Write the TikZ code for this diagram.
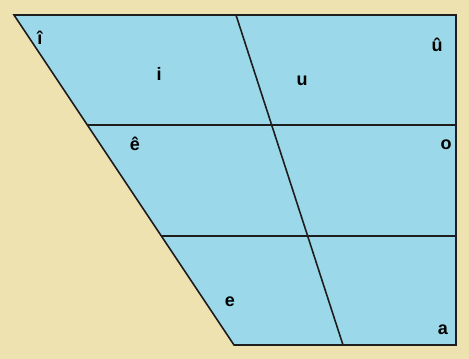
\documentclass[tikz,border=0pt]{standalone}
\usepackage{fontspec}
\setmainfont{Liberation Sans}
\definecolor{beige}{RGB}{238,226,176}
\definecolor{chartblue}{RGB}{155,216,233}
\definecolor{edge}{RGB}{30,30,30}
\begin{document}
\begin{tikzpicture}[x=0.75pt,y=-0.75pt,
  vowel/.style={font=\bfseries\fontsize{13.5}{15}\selectfont, text=black, anchor=base, inner sep=0pt},
  gridline/.style={draw=edge, line width=1.2pt}]
\fill[beige] (0,0) rectangle (469,359);
\useasboundingbox (0,0) rectangle (469,359);
\coordinate (TL) at (14,15);
\coordinate (TR) at (456,15);
\coordinate (BR) at (456,345);
\coordinate (BL) at (234,345);
\coordinate (TM) at (236,15);
\coordinate (BM) at (343,345);
\coordinate (ML) at (87.3,125);
\coordinate (MR) at (456,125);
\coordinate (LL) at (161.5,236);
\coordinate (LR) at (456,236);
\fill[chartblue] (TL) -- (TR) -- (BR) -- (BL) -- cycle;
\draw[gridline, line join=miter] (TL) -- (TR) -- (BR) -- (BL) -- cycle;
\draw[gridline] (TM) -- (BM);
\draw[gridline] (ML) -- (MR);
\draw[gridline] (LL) -- (LR);
\node[vowel] (icirc) at (40,45) {î};
\node[vowel] (i) at (159,81) {i};
\node[vowel] (u) at (302,86) {u};
\node[vowel] (ucirc) at (437,52) {û};
\node[vowel] (ecirc) at (135,151) {ê};
\node[vowel] (o) at (446,150) {o};
\node[vowel] (e) at (230,307) {e};
\node[vowel] (a) at (443,335) {a};
\end{tikzpicture}
\end{document}
